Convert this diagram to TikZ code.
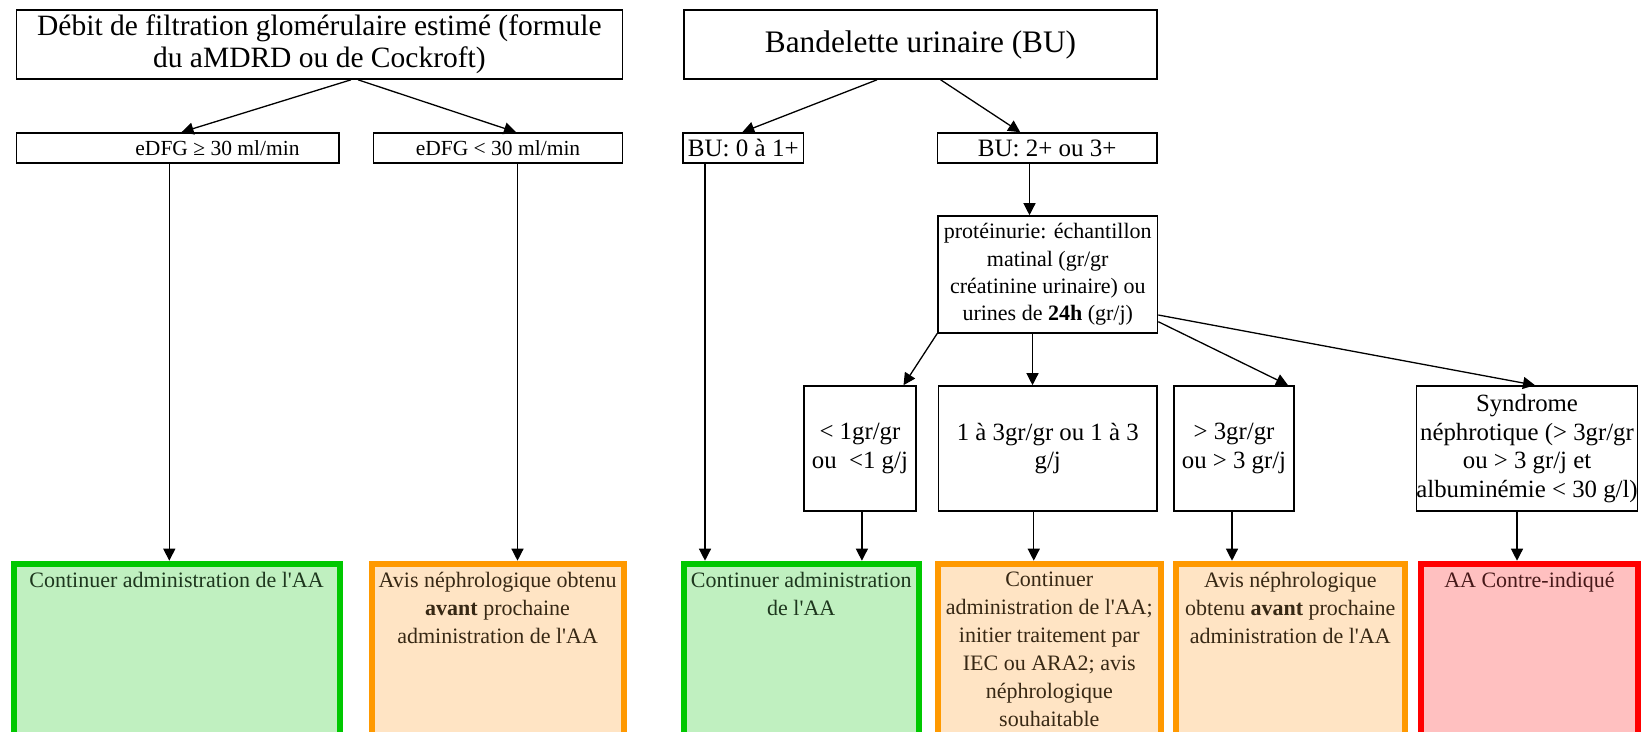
\documentclass[tikz,border=0pt]{standalone}
\usepackage{fontspec}
\setmainfont{Liberation Serif}
\usetikzlibrary{arrows.meta,calc}
\definecolor{gfill}{RGB}{192,240,192}
\definecolor{gline}{RGB}{0,200,0}
\definecolor{ofill}{RGB}{255,228,196}
\definecolor{oline}{RGB}{255,153,0}
\definecolor{rfill}{RGB}{255,192,192}
\definecolor{rline}{RGB}{255,0,0}
\definecolor{gtext}{RGB}{30,55,30}
\definecolor{otext}{RGB}{55,40,20}
\definecolor{rtext}{RGB}{70,25,25}
\newcommand{\apo}{\textquotesingle}
\begin{document}
\begin{tikzpicture}[x=1pt,y=-1pt,
  box/.style={draw=black, line width=1.6pt, inner sep=0pt, align=center, fill=white},
  arr/.style={draw=black, line width=1.3pt, -{Triangle[length=12pt,width=12pt]}},
  res/.style={line width=6pt, inner sep=0pt, minimum height=190pt, anchor=north west},
  gres/.style={res, draw=gline, fill=gfill},
  ores/.style={res, draw=oline, fill=ofill},
  rres/.style={res, draw=rline, fill=rfill},
  btxt/.style={inner sep=0pt, align=center, anchor=north, font=\fontsize{22}{28}\selectfont},
  fA/.style={font=\fontsize{29.5}{31.6}\selectfont},
  fB/.style={font=\fontsize{31.3}{36}\selectfont},
  fE/.style={font=\fontsize{21.5}{24}\selectfont},
  fU/.style={font=\fontsize{25}{30}\selectfont},
  fP/.style={font=\fontsize{22}{27.2}\selectfont},
  fR/.style={font=\fontsize{24.8}{28.4}\selectfont}
]
\useasboundingbox (0,0) rectangle (1641,731);
\clip (0,0) rectangle (1641,731);
\fill[white] (0,0) rectangle (1641,731);

% top boxes
\node[box, fA, minimum width=606.2pt, minimum height=69pt] (A) at (319.4,44.5)
  {Débit de filtration glomérulaire estimé (formule\\du aMDRD ou de Cockroft)};
\node[box, fB, minimum width=473pt, minimum height=69pt] (B) at (920.5,44.5)
  {Bandelette urinaire (BU)};

% second row
\node[box, fE, minimum width=322.4pt, minimum height=30pt] (E1) at (177.5,148)
  {\hspace*{80pt}eDFG ≥ 30 ml/min};
\node[box, fE, minimum width=249pt, minimum height=30pt] (E2) at (498,148)
  {eDFG < 30 ml/min};
\node[box, fU, minimum width=120.6pt, minimum height=30pt] (BU0) at (743.3,148)
  {BU: 0 à 1+};
\node[box, fU, minimum width=219.5pt, minimum height=30pt] (BU2) at (1047.25,148)
  {BU: 2+ ou 3+};

% proteinurie
\node[box, fP, minimum width=219.5pt, minimum height=116.7pt] (P) at (1047.75,274.35)
  {protéinurie: échantillon\\matinal (gr/gr\\créatinine urinaire) ou\\urines de \textbf{24h} (gr/j)};

% third row
\node[box, fR, minimum width=112.2pt, minimum height=125pt] (R1) at (859.9,448.5)
  {< 1gr/gr\\ou \ <1 g/j};
\node[box, fR, minimum width=218.5pt, minimum height=125pt] (R2) at (1047.75,448.5)
  {1 à 3gr/gr ou 1 à 3\\g/j};
\node[box, fR, minimum width=120pt, minimum height=125pt] (R3) at (1234,448.5)
  {> 3gr/gr\\ou > 3 gr/j};
\node[box, fR, minimum width=218pt, minimum height=125pt] (R4) at (1527,448.5)
  {Syndrome\\néphrotique (> 3gr/gr\\ou > 3 gr/j et\\albuminémie < 30 g/l)};

% bottom result boxes
\node[gres, minimum width=326.1pt] (G1) at (10.5,560.7) {};
\node[ores, minimum width=251.8pt] (O1) at (368.7,560.7) {};
\node[gres, minimum width=234.5pt] (G2) at (681,560.7) {};
\node[ores, minimum width=222.6pt] (O2) at (935,560.7) {};
\node[ores, minimum width=228.6pt] (O3) at (1173,560.7) {};
\node[rres, minimum width=217pt] (RD) at (1418,560.7) {};

\node[btxt, text=gtext] (g1t) at ([yshift=-11pt]G1.north) {Continuer administration de l\apo AA};
\node[btxt, text=otext] (o1t) at ([yshift=-11pt]O1.north)
  {Avis néphrologique obtenu\\\textbf{avant} prochaine\\administration de l\apo AA};
\node[btxt, text=gtext] (g2t) at ([yshift=-11pt]G2.north)
  {Continuer administration\\de l\apo AA};
\node[btxt, text=otext] (o2t) at ([yshift=-11pt]O2.north)
  {Continuer\\administration de l\apo AA;\\initier traitement par\\IEC ou ARA2; avis\\néphrologique\\souhaitable};
\node[btxt, text=otext] (o3t) at ([yshift=-11pt]O3.north)
  {Avis néphrologique\\obtenu \textbf{avant} prochaine\\administration de l\apo AA};
\node[btxt, text=rtext] (rdt) at ([yshift=-11pt]RD.north) {AA Contre-indiqué};

% connectors top
\draw[arr] ([xshift=31.6pt]A.south) -- ([xshift=4pt]E1.north);
\draw[arr] ([xshift=38.6pt]A.south) -- ([xshift=18pt]E2.north);
\draw[arr] ([xshift=-43.5pt]B.south) -- ([xshift=-1pt]BU0.north);
\draw[arr] ([xshift=20.1pt]B.south) -- ([xshift=-27pt]BU2.north);

% long verticals
\draw[arr] ([xshift=-8.2pt]E1.south) -- ([xshift=-8.2pt]E1.south |- G1.north);
\draw[arr] ([xshift=19.5pt]E2.south) -- ([xshift=19.5pt]E2.south |- O1.north);
\draw[arr] ([xshift=-38.3pt]BU0.south) -- ([xshift=-38.3pt]BU0.south |- G2.north);
\draw[arr] ([xshift=-17.75pt]BU2.south) -- ([xshift=-17.75pt]BU2.south |- P.north);

% from proteinurie
\draw[arr] (P.south west) -- ([xshift=43.6pt]R1.north);
\draw[arr] ([xshift=-15.25pt]P.south) -- ([xshift=-15.25pt]P.south |- R2.north);
\draw[arr] ([yshift=-47.35pt]P.east) -- ([xshift=54pt]R3.north);
\draw[arr] ([yshift=-40.65pt]P.east) -- ([xshift=8pt]R4.north);

% third row to results
\draw[arr] ([xshift=2pt]R1.south) -- ([xshift=2pt]R1.south |- G2.north);
\draw[arr] ([xshift=-14pt]R2.south) -- ([xshift=-14pt]R2.south |- O2.north);
\draw[arr] ([xshift=-2pt]R3.south) -- ([xshift=-2pt]R3.south |- O3.north);
\draw[arr] ([xshift=-10pt]R4.south) -- ([xshift=-10pt]R4.south |- RD.north);
\end{tikzpicture}
\end{document}
